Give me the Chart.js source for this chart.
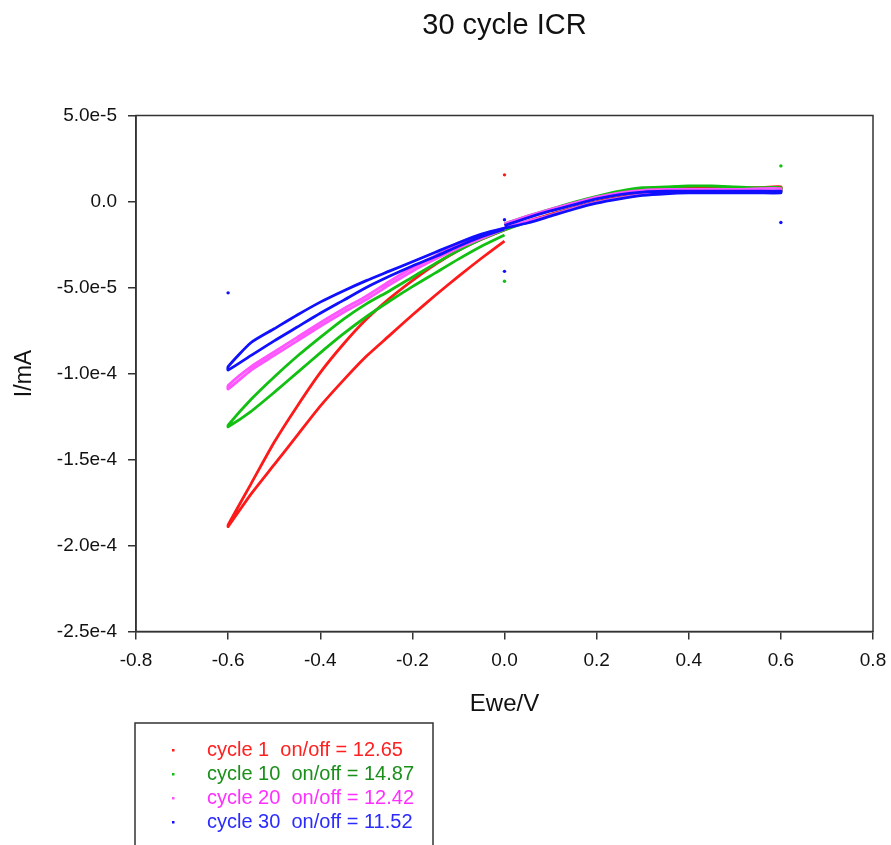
<!DOCTYPE html>
<html>
<head>
<meta charset="utf-8">
<script src="https://cdn.jsdelivr.net/npm/chart.js@4.4.1/dist/chart.umd.min.js"></script>
<style>
  html, body { margin: 0; padding: 0; background: #fff; }
  #wrap { width: 891px; height: 845px; position: relative; }
</style>
</head>
<body>
<div id="wrap"><canvas id="icr"></canvas></div>
<script>
// potential sweep (V): 0 -> 0.6 -> 0 -> -0.6 -> 0, shared by every cycle
var potential = [0, 0.05, 0.1, 0.15, 0.2, 0.25, 0.3, 0.35, 0.4, 0.45, 0.5, 0.55, 0.6,
  0.6, 0.55, 0.5, 0.45, 0.4, 0.35, 0.3, 0.25, 0.2, 0.15, 0.1, 0.05, 0,
  -0.05, -0.1, -0.15, -0.2, -0.25, -0.3, -0.35, -0.4, -0.45, -0.5, -0.55, -0.6,
  -0.6, -0.55, -0.5, -0.45, -0.4, -0.35, -0.3, -0.25, -0.2, -0.15, -0.1, -0.05, 0];

// currents, in units of 1e-5 mA
var cycle1 = [-1.35, -0.9, -0.5, -0.1, 0.25, 0.55, 0.75, 0.8, 0.85, 0.8, 0.8, 0.8, 0.85,
  0.6, 0.6, 0.6, 0.6, 0.6, 0.55, 0.45, 0.25, 0.0, -0.35, -0.75, -1.15, -1.65,
  -2.2, -2.85, -3.65, -4.6, -5.65, -6.85, -8.3, -9.95, -11.9, -14.0, -16.4, -18.8,
  -18.9, -17.0, -15.3, -13.6, -11.9, -10.4, -9.0, -7.8, -6.6, -5.45, -4.35, -3.3, -2.3];
var cycle10 = [-1.3, -0.85, -0.45, -0.05, 0.3, 0.6, 0.8, 0.85, 0.9, 0.9, 0.85, 0.8, 0.8,
  0.55, 0.55, 0.6, 0.6, 0.6, 0.55, 0.4, 0.2, -0.05, -0.4, -0.8, -1.2, -1.65,
  -2.2, -2.85, -3.6, -4.4, -5.2, -5.95, -6.85, -7.9, -9.0, -10.2, -11.5, -13.0,
  -13.1, -12.2, -11.1, -9.95, -8.8, -7.7, -6.7, -5.8, -4.95, -4.15, -3.35, -2.6, -1.95];
var cycle20 = [-1.3, -0.85, -0.45, -0.1, 0.25, 0.5, 0.65, 0.7, 0.7, 0.7, 0.7, 0.75, 0.75,
  0.6, 0.6, 0.6, 0.6, 0.6, 0.5, 0.4, 0.2, -0.05, -0.4, -0.8, -1.15, -1.55,
  -1.95, -2.5, -3.15, -3.85, -4.65, -5.5, -6.25, -7.05, -7.9, -8.75, -9.6, -10.7,
  -10.9, -9.8, -8.95, -8.1, -7.25, -6.45, -5.7, -4.85, -4.05, -3.35, -2.7, -2.15, -1.6];
var cycle30 = [-1.4, -0.95, -0.55, -0.2, 0.15, 0.4, 0.55, 0.6, 0.6, 0.6, 0.6, 0.6, 0.6,
  0.5, 0.5, 0.5, 0.5, 0.5, 0.45, 0.35, 0.15, -0.1, -0.45, -0.85, -1.25, -1.55,
  -1.9, -2.4, -2.95, -3.5, -4.05, -4.6, -5.2, -5.85, -6.6, -7.4, -8.2, -9.6,
  -9.8, -8.95, -8.1, -7.3, -6.5, -5.75, -5.0, -4.35, -3.75, -3.2, -2.6, -2.05, -1.6];

// isolated spike points (V, 1e-5 mA)
var spike1E = [0], spike1I = [1.55];
var spike10E = [0.6, 0], spike10I = [2.07, -4.64];
var spike30E = [0.6, 0, -0.6, 0], spike30I = [-1.22, -4.06, -5.31, -1.06];

var labels = ["cycle 1  on/off = 12.65", "cycle 10  on/off = 14.87",
  "cycle 20  on/off = 12.42", "cycle 30  on/off = 11.52"];
var lineColors = ["#ff1a1a", "#12c012", "#ff55ff", "#1010ff"];
var textColors = ["#ff2020", "#1a8f1a", "#ff30ff", "#2b2bff"];

var yTicks = [5e-5, 0, -5e-5, -1e-4, -1.5e-4, -2e-4, -2.5e-4];
var xTicks = [-0.8, -0.6, -0.4, -0.2, 0, 0.2, 0.4, 0.6, 0.8];

function pts(xs, ys) {
  return xs.map(function (e, i) { return { x: e, y: ys[i] * 1e-5 }; });
}

var series = [cycle1, cycle10, cycle20, cycle30];
var datasets = series.map(function (s, i) {
  return {
    label: labels[i],
    data: pts(potential, s),
    showLine: true,
    borderColor: lineColors[i],
    backgroundColor: lineColors[i],
    borderWidth: 2.8,
    pointRadius: 0,
    tension: 0.2,
    order: 4 - i,
    legendText: textColors[i]
  };
});
[[spike1E, spike1I, 0], [spike10E, spike10I, 1], [spike30E, spike30I, 3]].forEach(function (s) {
  datasets.push({
    label: "",
    data: pts(s[0], s[1]),
    showLine: false,
    pointRadius: 1.7,
    pointBorderWidth: 0,
    backgroundColor: lineColors[s[2]],
    borderColor: lineColors[s[2]],
    order: 0,
    spike: true
  });
});

// box around the plot area + legend box underneath
var framePlugin = {
  id: "frame",
  afterDraw: function (chart) {
    var ctx = chart.ctx, a = chart.chartArea;
    ctx.save();
    ctx.strokeStyle = "#333";
    ctx.lineWidth = 1.5;
    ctx.strokeRect(a.left, a.top, a.right - a.left, a.bottom - a.top);

    // legend
    ctx.strokeRect(135, 723, 298, 140);
    ctx.font = "20px 'Liberation Sans', Arial, sans-serif";
    ctx.textBaseline = "middle";
    ctx.textAlign = "left";
    chart.data.datasets.forEach(function (ds, i) {
      if (ds.spike) return;
      var y = 750 + i * 24;
      ctx.fillStyle = ds.borderColor;
      ctx.fillRect(172, y - 1, 2.5, 2.5);
      ctx.fillStyle = ds.legendText;
      ctx.fillText(ds.label, 207, y);
    });
    ctx.restore();
  }
};

var font = "'Liberation Sans', Arial, sans-serif";

new Chart("icr", {
  type: "scatter",
  data: { datasets: datasets },
  options: {
    responsive: true,
    maintainAspectRatio: false,
    animation: false,
    layout: { padding: { left: 0, right: 18, top: 0, bottom: 123.5 } },
    plugins: {
      legend: { display: false },
      tooltip: { enabled: false },
      title: {
        display: true,
        text: "30 cycle ICR",
        fullSize: false,
        color: "#111",
        font: { family: font, size: 29, weight: "normal" },
        padding: { top: 9, bottom: 71.7 }
      }
    },
    scales: {
      x: {
        type: "linear",
        min: -0.8,
        max: 0.8,
        afterBuildTicks: function (s) { s.ticks = xTicks.map(function (v) { return { value: v }; }); },
        afterFit: function (s) { s.height = 90; s.paddingLeft = 0; s.paddingRight = 0; },
        grid: { drawOnChartArea: false, drawTicks: true, tickLength: 8, color: "#333", lineWidth: 1.5 },
        border: { display: true, color: "#333", width: 1.5 },
        ticks: {
          padding: 10,
          color: "#111",
          font: { family: font, size: 19 },
          callback: function (v) { return Math.abs(v) < 1e-9 ? "0.0" : v.toFixed(1); }
        },
        title: {
          display: true,
          text: "Ewe/V",
          color: "#111",
          font: { family: font, size: 24 },
          padding: { top: 0, bottom: 3 }
        }
      },
      y: {
        type: "linear",
        min: -2.5e-4,
        max: 5e-5,
        afterBuildTicks: function (s) { s.ticks = yTicks.map(function (v) { return { value: v }; }); },
        afterFit: function (s) { s.width = 136; s.paddingTop = 0; s.paddingBottom = 0; },
        grid: { drawOnChartArea: false, drawTicks: true, tickLength: 8, color: "#333", lineWidth: 1.5 },
        border: { display: true, color: "#333", width: 1.5 },
        ticks: {
          padding: 11,
          color: "#111",
          font: { family: font, size: 19 },
          callback: function (v) { return Math.abs(v) < 1e-12 ? "0.0" : v.toExponential(1); }
        },
        title: {
          display: true,
          text: "I/mA",
          color: "#111",
          font: { family: font, size: 23 },
          padding: { top: 11, bottom: 0 }
        }
      }
    }
  },
  plugins: [framePlugin]
});
</script>
</body>
</html>
